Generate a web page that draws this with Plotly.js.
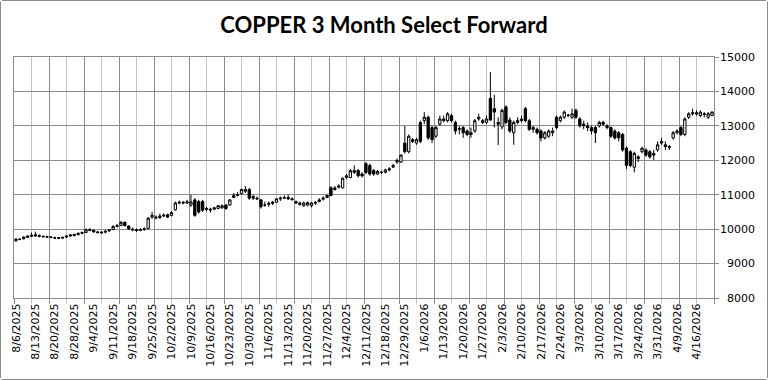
<!DOCTYPE html>
<html>
<head>
<meta charset="utf-8">
<script src="https://cdn.plot.ly/plotly-3.0.1.min.js"></script>
<style>
html,body{margin:0;padding:0;background:#fff;}
#frame{width:766px;height:378px;border:1px solid #8c8c8c;border-radius:3px;}
</style>
</head>
<body>
<div id="frame"><div id="chart" style="width:766px;height:378px;"></div></div>
<script>
// Weekly category labels (every 5th trading day)
const tickLabels = ["8/6/2025","8/13/2025","8/20/2025","8/28/2025","9/4/2025","9/11/2025","9/18/2025","9/25/2025",
"10/2/2025","10/9/2025","10/16/2025","10/23/2025","10/30/2025","11/6/2025","11/13/2025","11/20/2025","11/27/2025",
"12/4/2025","12/11/2025","12/18/2025","12/29/2025","1/6/2026","1/13/2026","1/20/2026","1/27/2026","2/3/2026",
"2/10/2026","2/17/2026","2/24/2026","3/3/2026","3/10/2026","3/17/2026","3/24/2026","3/31/2026","4/9/2026","4/16/2026"];

const openP = [9660,9710,9720,9760,9790,9840,9810,9790,9780,9770,9750,9730,9740,9770,9800,9810,9840,9880,9900,9990,
9960,9920,9890,9910,9950,9990,10080,10110,10200,10090,10000,9980,9960,9990,10020,10350,10350,10330,10380,10420,
10400,10560,10760,10780,10760,10700,10850,10800,10800,10600,10580,10580,10600,10620,10700,10700,10920,10980,11030,11100,
11150,10950,10900,10850,10700,10720,10750,10780,10880,10900,10920,10880,10800,10760,10680,10700,10680,10780,10800,10870,
10920,11200,11150,11220,11200,11500,11500,11650,11700,11600,11900,11850,11700,11600,11650,11650,11720,11800,11950,11950,
12500,12250,12600,12500,13100,13150,13250,12950,12700,13050,13150,13150,13300,13100,12900,12950,12850,12800,12850,13200,
13150,13100,13800,13500,13100,12970,13550,13170,12800,13100,13150,13500,13150,12900,12900,12850,12650,12700,12800,13250,
13150,13250,13300,13250,13450,13200,13050,13000,12950,12950,13000,13100,12950,12950,12850,12800,12750,12350,12250,11800,
12100,12250,12300,12250,12200,12300,12500,12450,12400,12650,12800,12950,12750,13250,13350,13380,13300,13350,13250,13300];

const highP = [9730,9740,9790,9820,9900,9930,9850,9820,9810,9800,9780,9760,9780,9810,9860,9860,9900,9930,10020,10030,
9990,9950,9930,9960,10000,10110,10150,10230,10220,10110,10050,10020,10030,10050,10350,10500,10400,10450,10460,10450,
10520,10800,10830,10820,10850,11000,10900,10850,10850,10650,10620,10650,10700,10720,10720,10870,11050,11080,11180,11250,
11200,11000,10950,10880,10800,10800,10820,10900,10950,10980,11000,10920,10830,10800,10800,10800,10790,10820,10900,10950,
11000,11250,11250,11300,11500,11600,11750,11850,11750,11650,11950,11900,11750,11720,11700,11760,11800,11900,12050,12170,
13000,12750,12650,12650,13150,13400,13300,13000,13000,13300,13300,13400,13350,13150,13000,13000,12900,12950,13200,13350,
13200,13300,14560,13900,13250,13500,13600,13250,13150,13250,13300,13550,13200,13000,12950,12900,12850,12900,12950,13300,
13300,13450,13350,13500,13500,13250,13150,13100,13000,13000,13150,13150,13050,12980,12900,12850,12800,12400,12300,12250,
12150,12400,12350,12300,12300,12550,12650,12550,12450,12850,12900,13000,13250,13400,13500,13450,13450,13400,13400,13420];

const lowP = [9640,9680,9700,9740,9770,9780,9760,9760,9750,9740,9720,9710,9720,9740,9780,9790,9820,9850,9890,9940,
9900,9880,9860,9880,9920,9970,10050,10090,10080,9980,9940,9920,9940,9950,10000,10300,10280,10300,10350,10320,
10370,10540,10720,10720,10730,10650,10360,10450,10500,10520,10480,10550,10580,10590,10560,10680,10900,10950,11000,11050,
10850,10850,10850,10600,10650,10650,10700,10760,10820,10880,10850,10820,10730,10680,10650,10660,10630,10700,10780,10830,
10900,10950,11120,11180,11180,11450,11480,11600,11500,11500,11600,11550,11550,11580,11600,11620,11680,11780,11900,11920,
12200,12200,12500,12450,12500,13050,12600,12500,12650,13000,13100,13100,13100,12750,12750,12650,12700,12650,12800,13150,
13050,13050,13150,12950,12440,12900,13050,12800,12450,13050,13100,13100,12850,12800,12750,12550,12600,12650,12700,12900,
13100,13200,13250,13200,13200,12950,12900,12850,12750,12500,12950,13000,12900,12650,12600,12550,12250,11750,11800,11650,
11950,12200,12100,12050,12000,12250,12450,12300,12300,12600,12750,12700,12700,13200,13300,13300,13250,13250,13200,13280];

const closeP = [9710,9700,9770,9800,9820,9800,9790,9780,9770,9760,9740,9750,9760,9800,9830,9850,9880,9900,9980,9960,
9920,9900,9910,9940,9980,10080,10100,10200,10100,10010,9980,9960,9990,10010,10320,10400,10330,10380,10400,10350,
10480,10760,10780,10760,10790,10790,10400,10500,10550,10580,10560,10620,10680,10680,10600,10850,10980,11000,11150,11150,
10900,10900,10880,10650,10700,10750,10780,10880,10900,10920,10880,10860,10760,10720,10760,10770,10760,10760,10850,10900,
10980,10980,11200,11250,11480,11550,11700,11700,11550,11550,11650,11600,11600,11680,11650,11720,11750,11850,12000,12150,
12250,12700,12550,12600,12550,13250,12650,12600,12950,13200,13200,13350,13150,12850,12920,12800,12750,12750,13150,13250,
13100,13200,13170,13400,13050,13450,13100,12850,13100,13150,13200,13150,12900,12950,12800,12650,12800,12850,12850,12950,
13250,13400,13310,13350,13250,13000,13000,12950,12850,12800,13100,13050,13000,12700,12650,12650,12300,11850,11850,12200,
12050,12350,12150,12100,12150,12450,12550,12400,12380,12800,12850,12750,13200,13350,13380,13350,13400,13330,13350,13400];

const idx = closeP.map((_, i) => i);
const labelPos = tickLabels.map((_, k) => k * 5);
const nCat = closeP.length;

const dom = [0, 700/741];
const gridDark = '#8c8c8c';
const gridLight = '#c3c3c3';

const traces = [
  {
    type: 'candlestick',
    x: idx, open: openP, high: highP, low: lowP, close: closeP,
    xaxis: 'x', yaxis: 'y',
    increasing: {line: {color: '#000000', width: 1}, fillcolor: '#ffffff'},
    decreasing: {line: {color: '#000000', width: 1}, fillcolor: '#000000'},
    whiskerwidth: 0,
    showlegend: false,
    hoverinfo: 'skip'
  },
  {type: 'scatter', x: [], y: [], xaxis: 'x2', yaxis: 'y2', showlegend: false, hoverinfo: 'skip'}
];

const layout = {
  width: 766, height: 378,
  margin: {l: 13, r: 12, t: 56, b: 81},
  paper_bgcolor: '#ffffff', plot_bgcolor: '#ffffff',
  showlegend: false,
  boxgap: 0.15,
  title: {
    text: '<b>COPPER 3 Month Select Forward</b>',
    font: {family: 'Lato, Carlito, sans-serif', size: 22, color: '#000000'},
    x: 0.5, xref: 'container', xanchor: 'center',
    y: 0.937, yref: 'container', yanchor: 'middle'
  },
  xaxis: {
    domain: dom,
    range: [-0.5, nCat - 0.5],
    tickmode: 'array', tickvals: labelPos, ticktext: tickLabels,
    tickangle: -90,
    tickfont: {family: 'DejaVu Sans, sans-serif', size: 11, color: '#000000'},
    ticks: '', showgrid: false, zeroline: false,
    showline: true, linecolor: gridDark, linewidth: 1, mirror: true,
    rangeslider: {visible: false}, fixedrange: true
  },
  xaxis2: {
    overlaying: 'x', anchor: 'y', domain: dom,
    range: [-0.5, nCat - 0.5],
    tickmode: 'linear', tick0: -0.5, dtick: 9,
    showgrid: true, gridcolor: gridDark, gridwidth: 1,
    ticks: 'outside', ticklen: 5, tickcolor: gridDark,
    showticklabels: false, zeroline: false, showline: false,
    minor: {tick0: -0.5, dtick: 4.5, showgrid: true, gridcolor: gridLight, ticks: 'outside', ticklen: 5, tickcolor: gridLight},
    fixedrange: true
  },
  yaxis: {
    side: 'right', anchor: 'x',
    range: [8000, 15000], tickmode: 'linear', tick0: 8000, dtick: 1000,
    showgrid: true, gridcolor: gridDark, gridwidth: 1,
    ticks: 'outside', ticklen: 4, tickcolor: gridDark,
    showticklabels: false, zeroline: false,
    showline: true, linecolor: gridDark, mirror: true,
    fixedrange: true
  },
  yaxis2: {
    overlaying: 'y', anchor: 'free', position: 1, side: 'left',
    range: [8000, 15000], tickmode: 'linear', tick0: 8000, dtick: 1000,
    tickformat: 'd',
    showgrid: false, zeroline: false, showline: false, ticks: '',
    tickfont: {family: 'DejaVu Sans, sans-serif', size: 11, color: '#000000'},
    fixedrange: true
  }
};

Plotly.newPlot('chart', traces, layout, {staticPlot: true, displayModeBar: false});
</script>
</body>
</html>
